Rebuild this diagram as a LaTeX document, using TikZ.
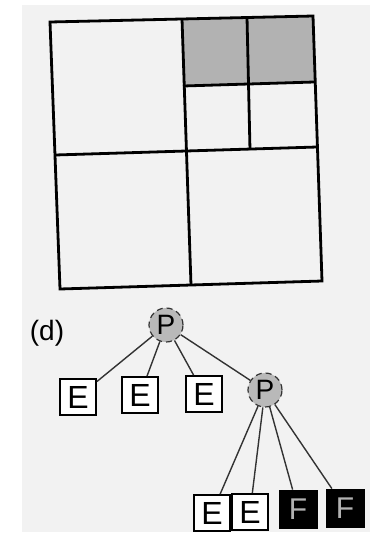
\documentclass[tikz,border=0pt]{standalone}
\usepackage{fontspec}
\setmainfont{Liberation Sans}
\usepackage{tikz}
\usetikzlibrary{positioning}

\begin{document}
\begin{tikzpicture}[
  x=0.5pt, y=-0.5pt,
  grid/.style={draw=black, line width=1.4pt},
  pnode/.style={circle, draw=black!80, semithick, densely dashed, fill=gray!55, minimum size=17pt, inner sep=0pt, font=\fontsize{14}{14}\selectfont},
  ebox/.style={draw=black, line width=0.9pt, fill=white, minimum size=18pt, inner sep=0pt, font=\fontsize{16}{16}\selectfont},
  fbox/.style={draw=black, fill=black, text=gray!60, minimum size=19pt, inner sep=0pt, font=\fontsize{15}{15}\selectfont},
  edge/.style={draw=black!80, line width=0.7pt}
]
  \useasboundingbox (0,0) rectangle (381,543);
  % scanned page
  \fill[gray!10] (22,5) rectangle (370,532);

  % Quadtree grid
  \coordinate (tl) at (50,22);
  \coordinate (tr) at (313,16);
  \coordinate (br) at (322,281);
  \coordinate (bl) at (60,289);

  % shaded cells
  \fill[gray!60] (182,19) -- (247,17) -- (248,84) -- (183,86) -- cycle;
  \fill[gray!60] (247,17) -- (313,16) -- (314,82) -- (248,84) -- cycle;

  \draw[grid] (tl) -- (tr) -- (br) -- (bl) -- cycle;
  \draw[grid] (182,19) -- (191,285);
  \draw[grid] (55,155) -- (317,147);
  \draw[grid] (247,17) -- (250,150);
  \draw[grid] (183,86) -- (314,82);

  % Tree
  \node[font=\fontsize{14}{14}\selectfont] (lab) at (47,333) {(d)};

  \node[pnode] (root) at (166,325) {P};
  \node[ebox] (e1) at (78,397) {E};
  \node[ebox] (e2) at (140,395) {E};
  \node[ebox] (e3) at (204,394) {E};
  \node[pnode] (p2) at (265,390) {P};

  \node[ebox] (e4) at (212,513) {E};
  \node[ebox] (e5) at (250,512) {E};
  \node[fbox] (f1) at (298,509) {F};
  \node[fbox] (f2) at (345,508) {F};

  \foreach \c in {e1,e2,e3,p2}
    \draw[edge] (root) -- (\c);
  \foreach \c in {e4,e5,f1,f2}
    \draw[edge] (p2) -- (\c);
\end{tikzpicture}
\end{document}
